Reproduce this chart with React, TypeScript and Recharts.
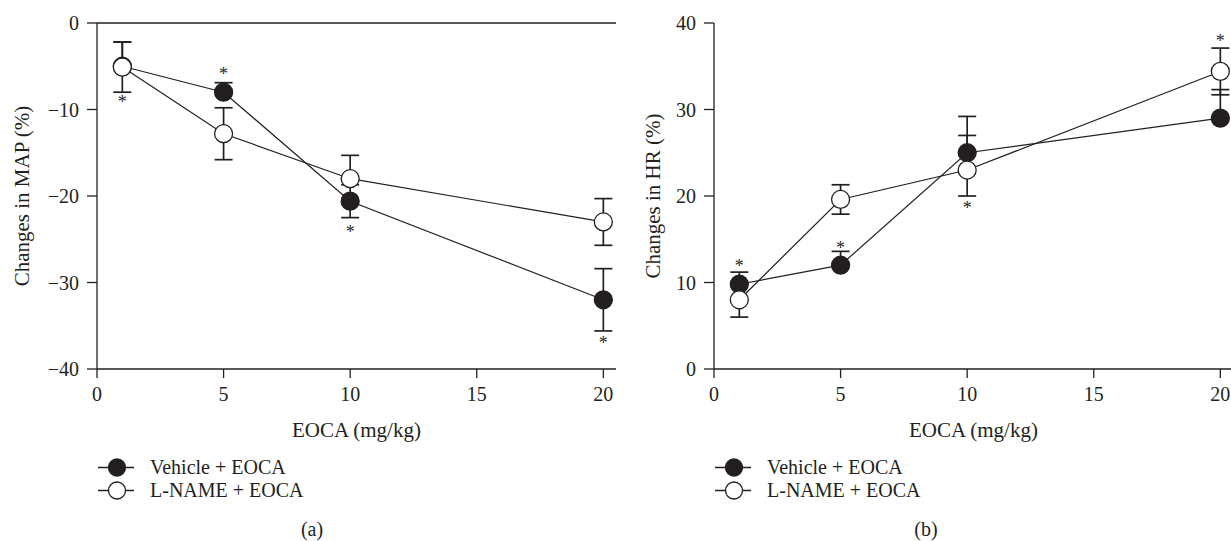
import React from 'react';
import { ComposedChart, Line, Scatter, XAxis, YAxis, ErrorBar, ReferenceLine, Legend } from 'recharts';

const doses = [1, 5, 10, 20];
const xTicks = [0, 5, 10, 15, 20];

// panel (a): MAP — errors as [below, above]; 0 where only one side is drawn
const mapVehicle = [-5, -8, -20.6, -32];
const mapVehicleErr = [[0, 2.8], [0, 1.1], [1.9, 1.9], [3.6, 3.6]];
const mapLname = [-5.1, -12.8, -18, -23];
const mapLnameErr = [[2.9, 2.9], [3, 3], [0, 2.7], [2.7, 2.7]];
const mapTicks = [-40, -30, -20, -10, 0];
const mapStarY = [-8.9, -5.7, -23.9, -36.8];

// panel (b): HR
const hrVehicle = [9.8, 12, 25, 29];
const hrVehicleErr = [[0, 1.4], [0, 1.6], [0, 4.2], [0, 3.3]];
const hrLname = [8, 19.6, 23, 34.4];
const hrLnameErr = [[2, 2], [1.7, 1.7], [3, 4], [2.7, 2.7]];
const hrTicks = [0, 10, 20, 30, 40];
const hrStarY = [12.1, 14.2, 18.8, 38.1];

const seriesNames = ['Vehicle + EOCA', 'L-NAME + EOCA'];

const INK = '#231f20';
const FONT = '"Liberation Serif", "Times New Roman", serif';

const build = (veh: number[], vehErr: number[][], ln: number[], lnErr: number[][]) =>
  doses.map((x, i) => ({ x, veh: veh[i], vehErr: vehErr[i], lname: ln[i], lnameErr: lnErr[i] }));

const buildStars = (ys: number[]) => doses.map((x, i) => ({ x, y: ys[i] }));

const minus = (v: number) => String(v).replace('-', '\u2212');

const FilledDot = (props: any) => {
  const { cx, cy, index } = props;
  if (cx == null || cy == null) return <g key={`f-${index}`} />;
  return <circle key={`f-${index}`} cx={cx} cy={cy} r={9} fill={INK} stroke={INK} strokeWidth={1.3} />;
};

const OpenDot = (props: any) => {
  const { cx, cy, index } = props;
  if (cx == null || cy == null) return <g key={`o-${index}`} />;
  return <circle key={`o-${index}`} cx={cx} cy={cy} r={9} fill="#fff" stroke={INK} strokeWidth={1.3} />;
};

const StarShape = (props: any) => {
  const { cx, cy } = props;
  return (
    <text x={cx} y={cy + 8} textAnchor="middle" fontSize={18} fontFamily={FONT} fill={INK}>
      *
    </text>
  );
};

const YLabel = ({ viewBox, value, dx }: any) => {
  const x = viewBox.x + dx;
  const y = viewBox.y + viewBox.height / 2;
  return (
    <text
      x={x}
      y={y}
      transform={`rotate(-90 ${x} ${y})`}
      textAnchor="middle"
      dominantBaseline="central"
      fontSize={21}
      fontFamily={FONT}
      fill={INK}
    >
      {value}
    </text>
  );
};

const LegendBox = () => (
  <div style={{ fontFamily: FONT, fontSize: 20, color: INK }}>
    {seriesNames.map((name, i) => (
      <div key={name} style={{ display: 'flex', alignItems: 'center', height: 23 }}>
        <svg width={36} height={23} style={{ display: 'block' }}>
          <line x1={0} y1={11.5} x2={36} y2={11.5} stroke={INK} strokeWidth={1.3} />
          <circle cx={19} cy={11.5} r={8.5} fill={i === 0 ? INK : '#fff'} stroke={INK} strokeWidth={1.3} />
        </svg>
        <span style={{ marginLeft: 16, lineHeight: '23px' }}>{name}</span>
      </div>
    ))}
  </div>
);

interface PanelProps {
  data: any[];
  stars: any[];
  domain: [number, number];
  ticks: number[];
  yLabel: string;
  yLabelDx: number;
  topLine?: boolean;
}

const Panel = ({ data, stars, domain, ticks, yLabel, yLabelDx, topLine }: PanelProps) => (
  <ComposedChart width={616} height={541} data={data} margin={{ top: 23, right: 0, left: 0, bottom: 141 }}>
    <XAxis
      dataKey="x"
      type="number"
      domain={[0, 20.5]}
      ticks={xTicks}
      allowDataOverflow
      height={31}
      tickSize={9}
      tickMargin={9}
      stroke={INK}
      strokeWidth={1.3}
      tick={{ fill: INK, fontSize: 20, fontFamily: FONT }}
      label={{ value: 'EOCA (mg/kg)', position: 'bottom', offset: 22, fill: INK, fontSize: 21, fontFamily: FONT }}
    />
    <YAxis
      type="number"
      domain={domain}
      ticks={ticks}
      allowDataOverflow
      width={97}
      tickSize={10}
      tickMargin={8}
      stroke={INK}
      strokeWidth={1.3}
      tickFormatter={minus}
      tick={{ fill: INK, fontSize: 20, fontFamily: FONT }}
      label={<YLabel value={yLabel} dx={yLabelDx} />}
    />
    {topLine && <ReferenceLine y={0} stroke={INK} strokeWidth={1.3} />}
    <Line
      dataKey="veh"
      stroke={INK}
      strokeWidth={1.2}
      dot={FilledDot}
      activeDot={false}
      isAnimationActive={false}
    >
      <ErrorBar dataKey="vehErr" width={9} stroke={INK} strokeWidth={1.7} direction="y" />
    </Line>
    <Line
      dataKey="lname"
      stroke={INK}
      strokeWidth={1.2}
      dot={OpenDot}
      activeDot={false}
      isAnimationActive={false}
    >
      <ErrorBar dataKey="lnameErr" width={9} stroke={INK} strokeWidth={1.7} direction="y" />
    </Line>
    <Scatter data={stars} dataKey="y" shape={StarShape} isAnimationActive={false} />
    <Legend
      layout="vertical"
      align="center"
      verticalAlign="middle"
      content={() => <LegendBox />}
      wrapperStyle={{ left: 98, top: 456, width: 300, height: 46 }}
    />
  </ComposedChart>
);

export default function App() {
  const mapData = build(mapVehicle, mapVehicleErr, mapLname, mapLnameErr);
  const hrData = build(hrVehicle, hrVehicleErr, hrLname, hrLnameErr);
  return (
    <div
      style={{
        position: 'absolute',
        left: 0,
        top: 0,
        width: 1231,
        height: 541,
        overflow: 'hidden',
        background: '#fff',
        fontFamily: FONT,
      }}
    >
      <div style={{ position: 'absolute', left: 0, top: 0 }}>
        <Panel
          data={mapData}
          stars={buildStars(mapStarY)}
          domain={[-40, 0]}
          ticks={mapTicks}
          yLabel="Changes in MAP (%)"
          yLabelDx={22}
          topLine
        />
      </div>
      <div style={{ position: 'absolute', left: 617, top: 0 }}>
        <Panel
          data={hrData}
          stars={buildStars(hrStarY)}
          domain={[0, 40]}
          ticks={hrTicks}
          yLabel="Changes in HR (%)"
          yLabelDx={36}
        />
      </div>
      <div style={{ position: 'absolute', left: 292, top: 518, width: 40, textAlign: 'center', fontSize: 20, color: INK }}>
        (a)
      </div>
      <div style={{ position: 'absolute', left: 906, top: 518, width: 40, textAlign: 'center', fontSize: 20, color: INK }}>
        (b)
      </div>
    </div>
  );
}
